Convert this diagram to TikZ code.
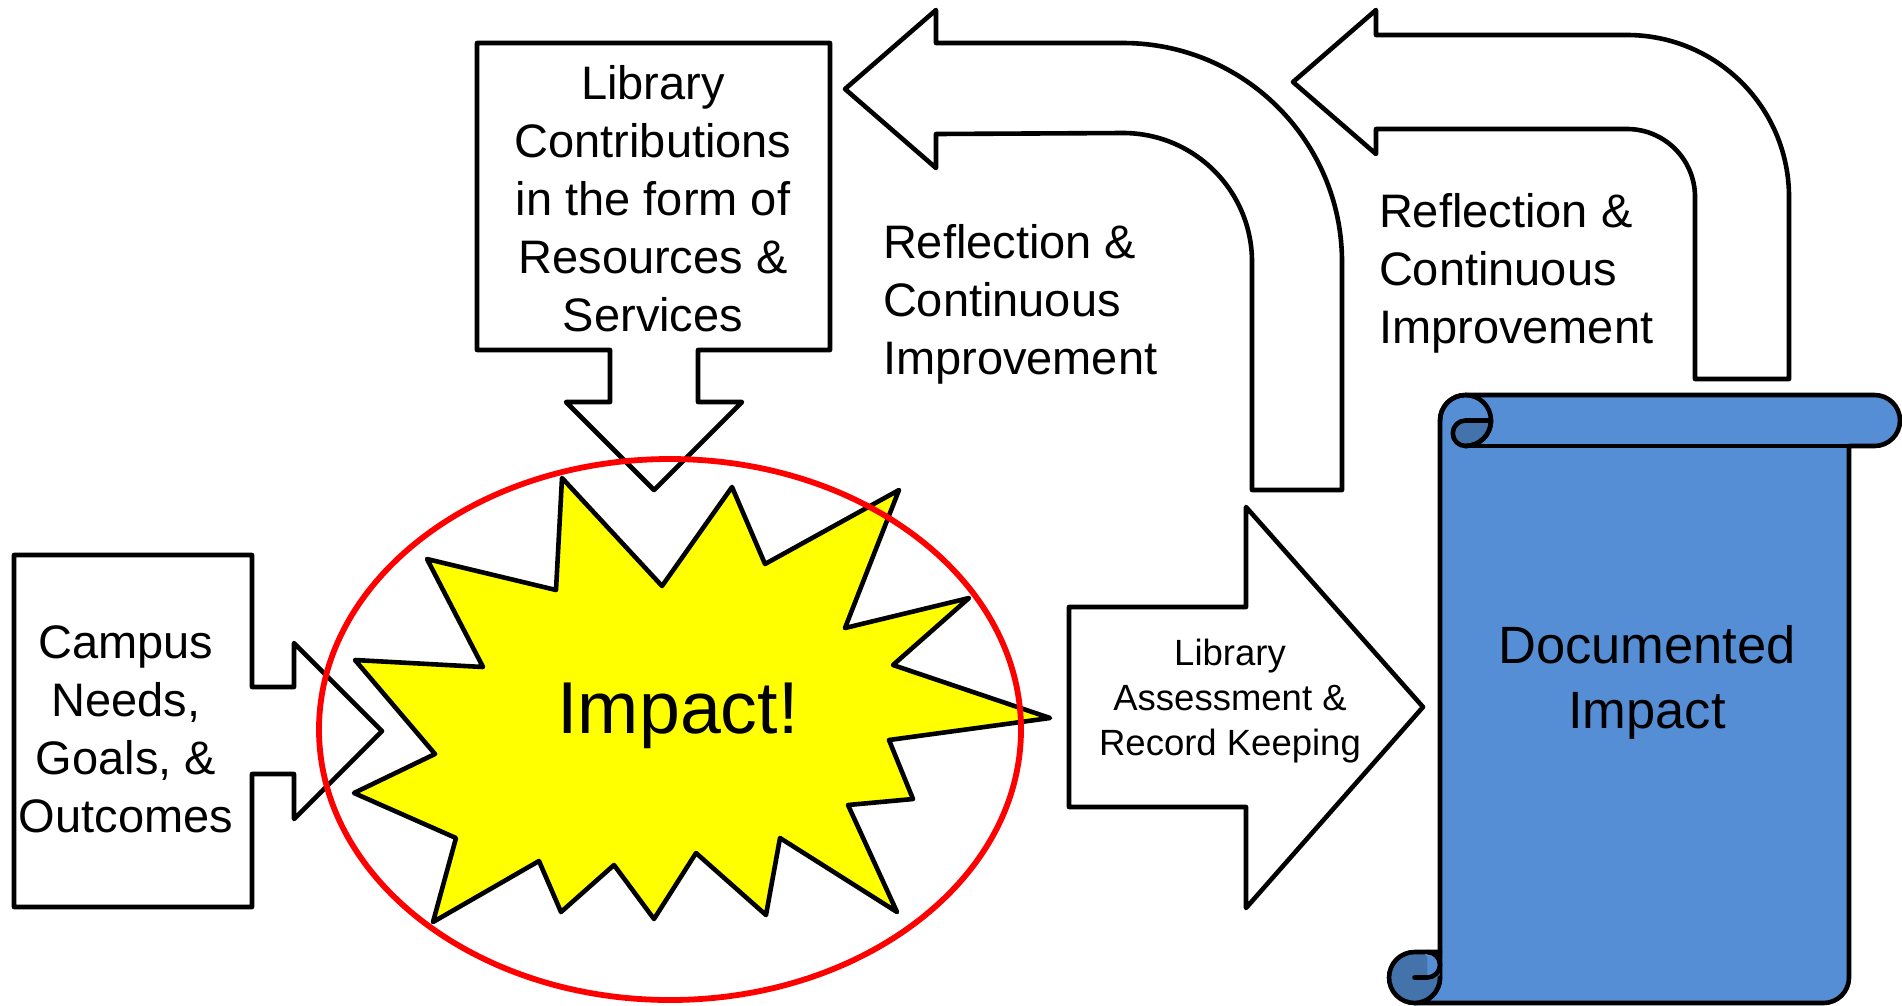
\documentclass[tikz,border=0pt]{standalone}
\usepackage{fontspec}
\setmainfont{Liberation Sans}
\definecolor{scrollblue}{HTML}{558ED5}
\definecolor{scrolldark}{HTML}{4472AA}
\definecolor{burst}{HTML}{FFFF00}
\newcommand\cstack[1]{\vtop{\halign{\hfil##\hfil\cr#1\crcr}}}
\newcommand\lstack[1]{\vtop{\halign{##\hfil\cr#1\crcr}}}
\tikzset{
  txt/.style={inner sep=0pt, outer sep=0pt, text=black},
  bigtxt/.style={txt, font=\fontsize{47}{58}\selectfont},
  blockarrow/.style={draw=black, fill=white, line width=4.6pt, line join=round},
  scrollline/.style={draw=black, line width=4.6pt, line join=round, line cap=round},
}
\begin{document}
\begin{tikzpicture}[x=1pt, y=-1pt]
\useasboundingbox (0,0) rectangle (1902,1005);

% Campus block arrow
\draw[blockarrow] (14,555) -- (252,555) -- (252,687) -- (294,687) -- (294,643) -- (382,731)
  -- (294,819) -- (294,774) -- (252,774) -- (252,907) -- (14,907) -- cycle;
\node[bigtxt, anchor=base] (campus) at (126,658) {\cstack{Campus\cr Needs,\cr Goals, \&\cr Outcomes}};

% Library contributions block arrow
\draw[blockarrow] (477,43) -- (830,43) -- (830,350) -- (698,350) -- (698,402) -- (742,402)
  -- (654,490) -- (566,402) -- (610,402) -- (610,350) -- (477,350) -- cycle;
\node[bigtxt, anchor=base] (contrib) at (653,99) {\cstack{Library\cr Contributions\cr in the form of\cr Resources \&\cr Services}};

% Bent arrow 1
\draw[blockarrow] (845,89) -- (936,10) -- (936,43) -- (1123,43)
  arc[start angle=270, end angle=360, radius=219] -- (1342,490) -- (1252,490) -- (1252,262)
  arc[start angle=0, end angle=-90, radius=129] -- (936,134) -- (936,168) -- cycle;
\node[bigtxt, anchor=base west] (refl1) at (883,258) {\lstack{Reflection \&\cr Continuous\cr Improvement}};

% Bent arrow 2
\draw[blockarrow] (1293,82) -- (1376,10) -- (1376,35) -- (1627,35)
  arc[start angle=270, end angle=360, radius=162] -- (1789,379) -- (1695,379) -- (1695,197)
  arc[start angle=0, end angle=-90, radius=68] -- (1376,129) -- (1376,154) -- cycle;
\node[bigtxt, anchor=base west] (refl2) at (1379,227) {\lstack{Reflection \&\cr Continuous\cr Improvement}};

% Library assessment block arrow
\draw[blockarrow] (1069,607) -- (1246,607) -- (1246,507) -- (1423,707) -- (1246,908)
  -- (1246,807) -- (1069,807) -- cycle;
\node[txt, font=\fontsize{36.5}{45}\selectfont, anchor=base] (assess) at (1230,665) {\cstack{Library\cr Assessment \&\cr Record Keeping}};

% Starburst
\draw[draw=black, fill=burst, line width=4.6pt, line join=round]
  (562,478) -- (662,586) -- (732,487) -- (765,564) -- (899,490) -- (845,628) -- (969,598)
  -- (893,665) -- (1050,718) -- (889,740) -- (913,799) -- (848,805) -- (897,912) -- (780,838)
  -- (766,915) -- (696,853) -- (654,919) -- (614,865) -- (561,912) -- (539,861) -- (433,922)
  -- (456,838) -- (354,793) -- (435,754) -- (355,660) -- (483,667) -- (427,559) -- (556,590) -- cycle;
\node[txt, font=\fontsize{73.5}{88}\selectfont, anchor=base] (impact) at (678,733) {Impact!};

% Red ellipse
\draw[red, line width=5.8pt] (670,729.5) ellipse[x radius=351, y radius=270.5];

% Scroll
\draw[scrollline, fill=scrollblue] (1414.5,1003) -- (1823.5,1003)
  arc[start angle=90, end angle=0, radius=25.5] -- (1849,446) -- (1874.5,446)
  arc[start angle=90, end angle=-90, radius=25.5] -- (1465.5,395)
  arc[start angle=270, end angle=180, radius=25.5] -- (1440,977.5)
  arc[start angle=0, end angle=90, radius=25.5] -- cycle;
\draw[scrollline, fill=scrolldark] (1491,420.5) -- (1465.5,420.5)
  arc[start angle=270, end angle=90, radius=12.75]
  arc[start angle=90, end angle=0, radius=25.5] -- cycle;
\draw[scrollline] (1440,420.5) arc[start angle=180, end angle=450, radius=25.5];
\draw[scrollline] (1465.5,446) -- (1849,446);
\fill[scrolldark] (1414.5,977.5) circle[radius=25.5];
\fill[scrollblue] (1427.25,952) arc[start angle=270, end angle=450, radius=12.75] -- cycle;
\draw[scrollline] (1440,952) -- (1414.5,952) arc[start angle=270, end angle=0, radius=25.5];
\draw[scrollline] (1427.25,952) arc[start angle=270, end angle=450, radius=12.75] -- (1414.5,977.5);
\node[txt, font=\fontsize{52.5}{65}\selectfont, anchor=base] (documented) at (1647,663) {\cstack{Documented\cr Impact}};
\end{tikzpicture}
\end{document}
